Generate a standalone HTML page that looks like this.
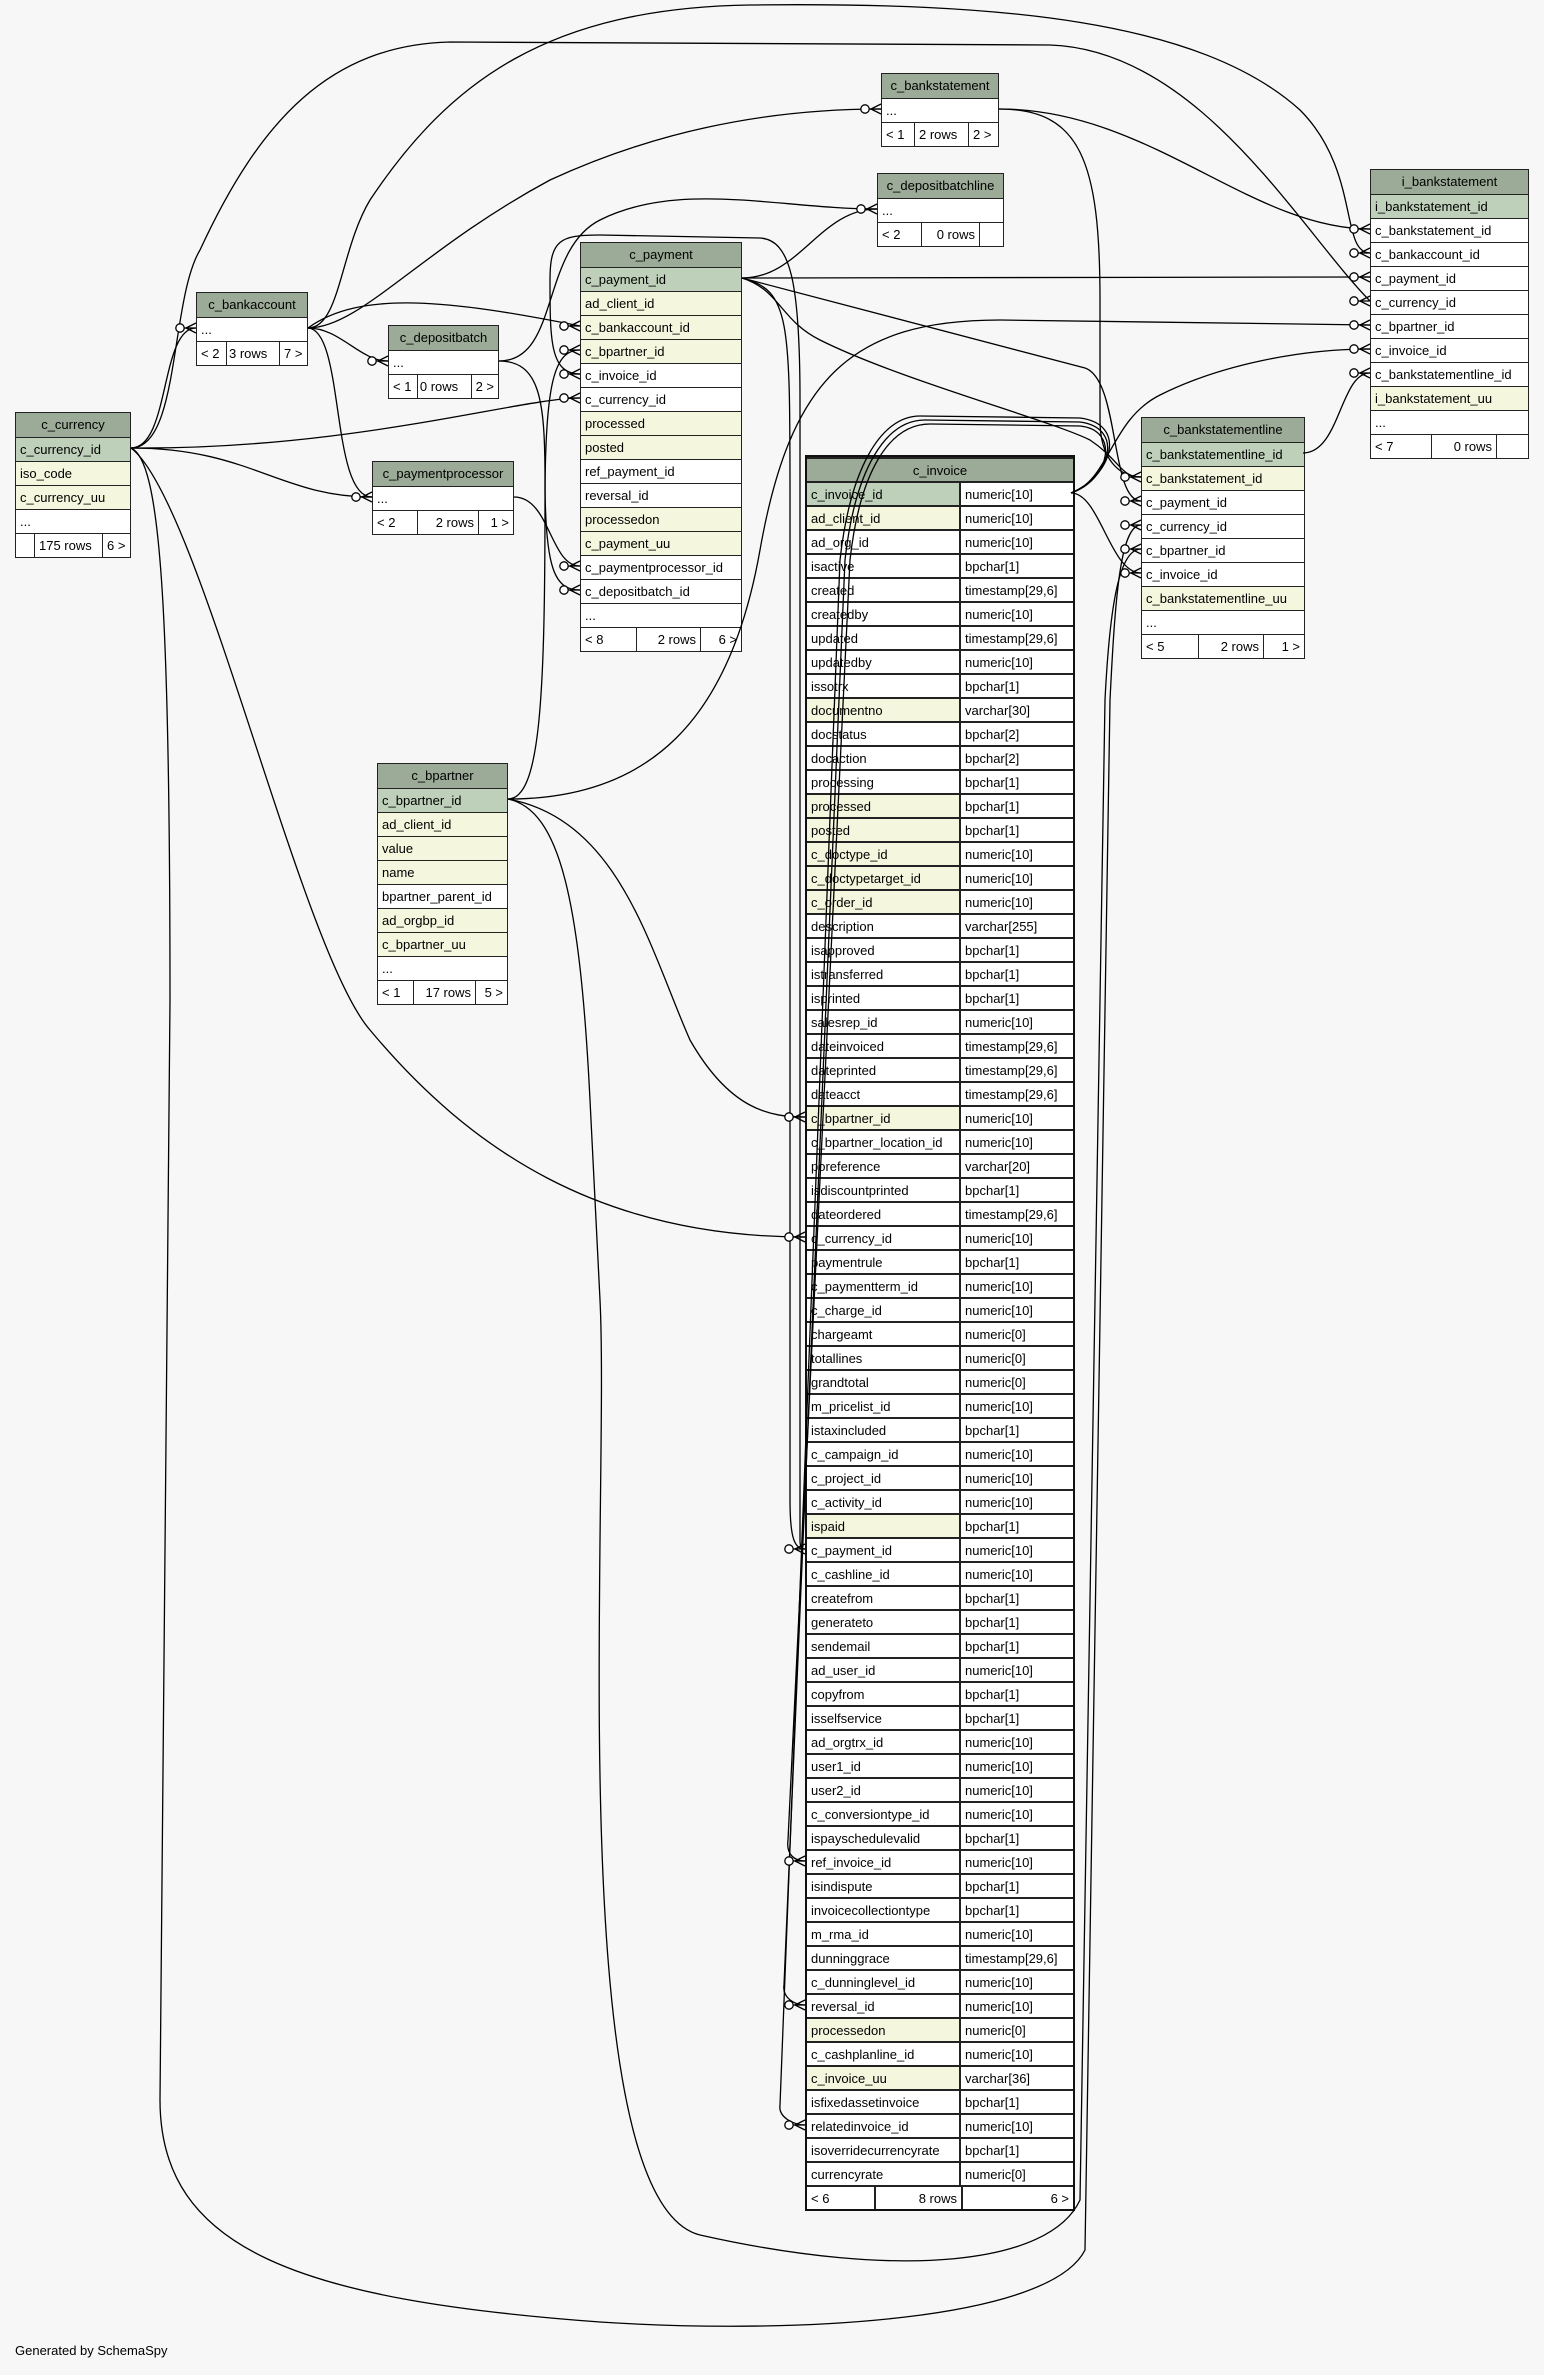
<!DOCTYPE html>
<html><head><meta charset="utf-8"><style>
body{margin:0;background:#f7f7f7;}
#w{position:relative;width:1544px;height:2375px;background:#f7f7f7;overflow:hidden;font-family:"Liberation Sans",Arial,sans-serif;}
.t{position:absolute;border:1px solid #222;background:#fff;font-size:13px;color:#000;}
.t>div{height:24px;line-height:23px;border-top:1px solid #222;box-sizing:border-box;padding-left:4px;white-space:nowrap;overflow:hidden;}
.t>div.h{border-top:none;background:#9cab97;text-align:center;padding:0;}
.t>div.g{background:#bed0ba}.t>div.y{background:#f4f7dd}
.t>div.f{display:flex;padding:0;}
.f span{display:block;box-sizing:border-box;padding:0 4px;border-left:1px solid #222;height:23px;}
.f span:first-child{border-left:none}
.f span.r{text-align:right}
.iv{border:2px solid #111}
.iv>div{display:flex;padding:0!important;border-top:2px solid #222!important}
.iv>div.h{display:block}
.iv>div span{display:block;box-sizing:border-box;padding:0 4px;height:22px}
.iv>div span.a{width:154px;border-right:2px solid #222}
.iv>div span.b{flex:1;background:#fff}
.iv>div.f span{border-left:2px solid #222}
.iv>div.f span:first-child{border-left:none}
svg{position:absolute;left:0;top:0}
#gen{position:absolute;left:15px;top:2343px;font-size:13px;}
</style></head><body><div id="w">

<div class="t" style="left:15px;top:412px;width:114px">
<div class="h">c_currency</div><div class="g">c_currency_id</div><div class="y">iso_code</div><div class="y">c_currency_uu</div><div>...</div>
<div class="f"><span style="width:18px"></span><span style="width:68px">175 rows</span><span style="flex:1">6 &gt;</span></div></div>

<div class="t" style="left:196px;top:292px;width:110px">
<div class="h">c_bankaccount</div><div>...</div>
<div class="f"><span style="width:29px">&lt; 2</span><span style="width:53px;padding:0 2px">3 rows</span><span style="flex:1">7 &gt;</span></div></div>

<div class="t" style="left:388px;top:325px;width:109px">
<div class="h">c_depositbatch</div><div>...</div>
<div class="f"><span style="width:28px">&lt; 1</span><span style="width:54px;padding:0 2px">0 rows</span><span style="flex:1">2 &gt;</span></div></div>

<div class="t" style="left:372px;top:461px;width:140px">
<div class="h">c_paymentprocessor</div><div>...</div>
<div class="f"><span style="width:44px">&lt; 2</span><span class="r" style="width:61px">2 rows</span><span class="r" style="flex:1">1 &gt;</span></div></div>

<div class="t" style="left:881px;top:73px;width:116px">
<div class="h">c_bankstatement</div><div>...</div>
<div class="f"><span style="width:32px">&lt; 1</span><span style="width:54px">2 rows</span><span style="flex:1">2 &gt;</span></div></div>

<div class="t" style="left:877px;top:173px;width:125px">
<div class="h">c_depositbatchline</div><div>...</div>
<div class="f"><span style="width:43px">&lt; 2</span><span class="r" style="width:58px">0 rows</span><span style="flex:1"></span></div></div>

<div class="t" style="left:580px;top:242px;width:160px">
<div class="h">c_payment</div><div class="g">c_payment_id</div><div class="y">ad_client_id</div><div class="y">c_bankaccount_id</div><div class="y">c_bpartner_id</div><div>c_invoice_id</div><div>c_currency_id</div><div class="y">processed</div><div class="y">posted</div><div>ref_payment_id</div><div>reversal_id</div><div class="y">processedon</div><div class="y">c_payment_uu</div><div>c_paymentprocessor_id</div><div>c_depositbatch_id</div><div>...</div>
<div class="f"><span style="width:55px">&lt; 8</span><span class="r" style="width:64px">2 rows</span><span class="r" style="flex:1">6 &gt;</span></div></div>

<div class="t" style="left:377px;top:763px;width:129px">
<div class="h">c_bpartner</div><div class="g">c_bpartner_id</div><div class="y">ad_client_id</div><div class="y">value</div><div class="y">name</div><div>bpartner_parent_id</div><div class="y">ad_orgbp_id</div><div class="y">c_bpartner_uu</div><div>...</div>
<div class="f"><span style="width:35px">&lt; 1</span><span class="r" style="width:62px">17 rows</span><span class="r" style="flex:1">5 &gt;</span></div></div>

<div class="t" style="left:1141px;top:417px;width:162px">
<div class="h">c_bankstatementline</div><div class="g">c_bankstatementline_id</div><div class="y">c_bankstatement_id</div><div>c_payment_id</div><div>c_currency_id</div><div>c_bpartner_id</div><div>c_invoice_id</div><div class="y">c_bankstatementline_uu</div><div>...</div>
<div class="f"><span style="width:56px">&lt; 5</span><span class="r" style="width:65px">2 rows</span><span class="r" style="flex:1">1 &gt;</span></div></div>

<div class="t" style="left:1370px;top:169px;width:157px">
<div class="h">i_bankstatement</div><div class="g">i_bankstatement_id</div><div>c_bankstatement_id</div><div>c_bankaccount_id</div><div>c_payment_id</div><div>c_currency_id</div><div>c_bpartner_id</div><div>c_invoice_id</div><div>c_bankstatementline_id</div><div class="y">i_bankstatement_uu</div><div>...</div>
<div class="f"><span style="width:60px">&lt; 7</span><span class="r" style="width:65px">0 rows</span><span style="flex:1"></span></div></div>

<div class="t iv" style="left:805px;top:455px;width:266px">
<div class="h">c_invoice</div>
<div><span class="a" style="background:#bed0ba">c_invoice_id</span><span class="b">numeric[10]</span></div>
<div><span class="a" style="background:#f4f7dd">ad_client_id</span><span class="b">numeric[10]</span></div>
<div><span class="a">ad_org_id</span><span class="b">numeric[10]</span></div>
<div><span class="a">isactive</span><span class="b">bpchar[1]</span></div>
<div><span class="a">created</span><span class="b">timestamp[29,6]</span></div>
<div><span class="a">createdby</span><span class="b">numeric[10]</span></div>
<div><span class="a">updated</span><span class="b">timestamp[29,6]</span></div>
<div><span class="a">updatedby</span><span class="b">numeric[10]</span></div>
<div><span class="a">issotrx</span><span class="b">bpchar[1]</span></div>
<div><span class="a" style="background:#f4f7dd">documentno</span><span class="b">varchar[30]</span></div>
<div><span class="a">docstatus</span><span class="b">bpchar[2]</span></div>
<div><span class="a">docaction</span><span class="b">bpchar[2]</span></div>
<div><span class="a">processing</span><span class="b">bpchar[1]</span></div>
<div><span class="a" style="background:#f4f7dd">processed</span><span class="b">bpchar[1]</span></div>
<div><span class="a" style="background:#f4f7dd">posted</span><span class="b">bpchar[1]</span></div>
<div><span class="a" style="background:#f4f7dd">c_doctype_id</span><span class="b">numeric[10]</span></div>
<div><span class="a" style="background:#f4f7dd">c_doctypetarget_id</span><span class="b">numeric[10]</span></div>
<div><span class="a" style="background:#f4f7dd">c_order_id</span><span class="b">numeric[10]</span></div>
<div><span class="a">description</span><span class="b">varchar[255]</span></div>
<div><span class="a">isapproved</span><span class="b">bpchar[1]</span></div>
<div><span class="a">istransferred</span><span class="b">bpchar[1]</span></div>
<div><span class="a">isprinted</span><span class="b">bpchar[1]</span></div>
<div><span class="a">salesrep_id</span><span class="b">numeric[10]</span></div>
<div><span class="a">dateinvoiced</span><span class="b">timestamp[29,6]</span></div>
<div><span class="a">dateprinted</span><span class="b">timestamp[29,6]</span></div>
<div><span class="a">dateacct</span><span class="b">timestamp[29,6]</span></div>
<div><span class="a" style="background:#f4f7dd">c_bpartner_id</span><span class="b">numeric[10]</span></div>
<div><span class="a">c_bpartner_location_id</span><span class="b">numeric[10]</span></div>
<div><span class="a">poreference</span><span class="b">varchar[20]</span></div>
<div><span class="a">isdiscountprinted</span><span class="b">bpchar[1]</span></div>
<div><span class="a">dateordered</span><span class="b">timestamp[29,6]</span></div>
<div><span class="a">c_currency_id</span><span class="b">numeric[10]</span></div>
<div><span class="a">paymentrule</span><span class="b">bpchar[1]</span></div>
<div><span class="a">c_paymentterm_id</span><span class="b">numeric[10]</span></div>
<div><span class="a">c_charge_id</span><span class="b">numeric[10]</span></div>
<div><span class="a">chargeamt</span><span class="b">numeric[0]</span></div>
<div><span class="a">totallines</span><span class="b">numeric[0]</span></div>
<div><span class="a">grandtotal</span><span class="b">numeric[0]</span></div>
<div><span class="a">m_pricelist_id</span><span class="b">numeric[10]</span></div>
<div><span class="a">istaxincluded</span><span class="b">bpchar[1]</span></div>
<div><span class="a">c_campaign_id</span><span class="b">numeric[10]</span></div>
<div><span class="a">c_project_id</span><span class="b">numeric[10]</span></div>
<div><span class="a">c_activity_id</span><span class="b">numeric[10]</span></div>
<div><span class="a" style="background:#f4f7dd">ispaid</span><span class="b">bpchar[1]</span></div>
<div><span class="a">c_payment_id</span><span class="b">numeric[10]</span></div>
<div><span class="a">c_cashline_id</span><span class="b">numeric[10]</span></div>
<div><span class="a">createfrom</span><span class="b">bpchar[1]</span></div>
<div><span class="a">generateto</span><span class="b">bpchar[1]</span></div>
<div><span class="a">sendemail</span><span class="b">bpchar[1]</span></div>
<div><span class="a">ad_user_id</span><span class="b">numeric[10]</span></div>
<div><span class="a">copyfrom</span><span class="b">bpchar[1]</span></div>
<div><span class="a">isselfservice</span><span class="b">bpchar[1]</span></div>
<div><span class="a">ad_orgtrx_id</span><span class="b">numeric[10]</span></div>
<div><span class="a">user1_id</span><span class="b">numeric[10]</span></div>
<div><span class="a">user2_id</span><span class="b">numeric[10]</span></div>
<div><span class="a">c_conversiontype_id</span><span class="b">numeric[10]</span></div>
<div><span class="a">ispayschedulevalid</span><span class="b">bpchar[1]</span></div>
<div><span class="a">ref_invoice_id</span><span class="b">numeric[10]</span></div>
<div><span class="a">isindispute</span><span class="b">bpchar[1]</span></div>
<div><span class="a">invoicecollectiontype</span><span class="b">bpchar[1]</span></div>
<div><span class="a">m_rma_id</span><span class="b">numeric[10]</span></div>
<div><span class="a">dunninggrace</span><span class="b">timestamp[29,6]</span></div>
<div><span class="a">c_dunninglevel_id</span><span class="b">numeric[10]</span></div>
<div><span class="a">reversal_id</span><span class="b">numeric[10]</span></div>
<div><span class="a" style="background:#f4f7dd">processedon</span><span class="b">numeric[0]</span></div>
<div><span class="a">c_cashplanline_id</span><span class="b">numeric[10]</span></div>
<div><span class="a" style="background:#f4f7dd">c_invoice_uu</span><span class="b">varchar[36]</span></div>
<div><span class="a">isfixedassetinvoice</span><span class="b">bpchar[1]</span></div>
<div><span class="a">relatedinvoice_id</span><span class="b">numeric[10]</span></div>
<div><span class="a">isoverridecurrencyrate</span><span class="b">bpchar[1]</span></div>
<div><span class="a">currencyrate</span><span class="b">numeric[0]</span></div>
<div class="f"><span style="width:67px">&lt; 6</span><span class="r" style="width:87px">8 rows</span><span class="r" style="flex:1">6 &gt;</span></div>
</div>

<svg width="1544" height="2375" viewBox="0 0 1544 2375">
<defs><g id="cf" fill="none" stroke="#000" stroke-width="1.3"><line x1="-10" y1="0" x2="0" y2="-5"/><line x1="-10" y1="0" x2="0" y2="5"/><line x1="-12" y1="0" x2="0" y2="0"/><circle cx="-16" cy="0" r="4.2" fill="#fff"/></g></defs>
<g fill="none" stroke="#000" stroke-width="1.3">
<path d="M131,448 C170,448 160,328 196,328"/>
<path d="M131,448 C250,448 280,497 372,497"/>
<path d="M131,448 C350,450 520,398 580,398"/>
<path d="M131,448 C200,500 300,950 370,1030 C470,1150 600,1237 805,1237"/>
<path d="M131,448 C180,448 170,300 200,250 C260,120 330,45 450,42 L1050,45 C1200,50 1300,230 1370,301"/>
<path d="M131,448 C160,460 170,600 170,1000 L160,2100 C160,2250 300,2300 600,2322 C800,2335 1050,2320 1085,2250 L1110,700 C1115,600 1120,525 1141,525"/>
<path d="M308,328 C340,328 340,250 370,200 C450,80 550,8 750,5 C1000,2 1200,20 1300,110 C1360,170 1340,253 1370,253"/>
<path d="M308,328 C360,328 420,250 550,180 C680,120 800,109 881,109"/>
<path d="M308,328 C360,290 450,300 580,326"/>
<path d="M308,328 C340,328 360,361 388,361"/>
<path d="M308,328 C345,330 330,497 372,497"/>
<path d="M499,361 C560,361 540,250 600,220 C680,180 780,209 877,209"/>
<path d="M499,361 C540,361 545,400 545,480 C545,570 555,590 580,590"/>
<path d="M514,497 C550,497 550,566 580,566"/>
<path d="M999,109 C1150,109 1250,229 1370,229"/>
<path d="M999,109 C1080,109 1100,160 1100,300 L1100,420 C1100,460 1120,477 1141,477"/>
<path d="M742,278 C800,278 820,209 877,209"/>
<path d="M742,278 L1370,277"/>
<path d="M742,278 L1085,368 C1120,380 1110,501 1141,501"/>
<path d="M742,278 C780,290 780,320 820,340 C900,380 1050,420 1090,440 C1120,460 1120,477 1141,477"/>
<path d="M742,278 C790,290 790,320 790,500 L790,1500 C790,1540 795,1549 805,1549"/>
<path d="M580,374 C550,374 550,340 550,280 C550,240 560,235 600,235 L760,238 C790,240 800,280 800,400 L800,1540 C800,1548 802,1549 805,1549"/>
<path d="M1071,493 C1110,480 1120,430 1080,426 L930,424 C890,424 860,470 850,560 L788,1840 C786,1855 795,1861 805,1861"/>
<path d="M1071,493 C1110,478 1125,428 1080,422 L925,420 C885,420 855,470 845,560 L784,1985 C782,1998 795,2005 805,2005"/>
<path d="M1071,493 C1112,476 1128,424 1080,418 L920,416 C880,416 850,470 840,560 L780,2105 C778,2118 795,2125 805,2125"/>
<path d="M1071,493 C1110,480 1110,420 1160,395 C1220,365 1300,349 1370,349"/>
<path d="M1071,493 C1100,493 1110,573 1141,573"/>
<path d="M508,799 C540,799 545,700 545,500 C545,380 555,350 580,350"/>
<path d="M508,799 C650,799 730,720 760,550 C790,380 850,320 1000,320 L1370,325"/>
<path d="M508,799 C620,820 650,950 690,1040 C730,1110 770,1117 805,1117"/>
<path d="M508,799 C560,810 580,900 590,1100 L600,1300 C610,1500 560,2200 700,2235 C900,2280 1050,2265 1080,2200 L1105,700 C1110,600 1120,549 1141,549"/>
<path d="M1303,453 C1340,453 1340,373 1370,373"/>
</g>
<use href="#cf" transform="translate(196,328)"/>
<use href="#cf" transform="translate(372,497)"/>
<use href="#cf" transform="translate(580,398)"/>
<use href="#cf" transform="translate(805,1237)"/>
<use href="#cf" transform="translate(1370,301)"/>
<use href="#cf" transform="translate(1141,525)"/>
<use href="#cf" transform="translate(1370,253)"/>
<use href="#cf" transform="translate(881,109)"/>
<use href="#cf" transform="translate(580,326)"/>
<use href="#cf" transform="translate(388,361)"/>
<use href="#cf" transform="translate(877,209)"/>
<use href="#cf" transform="translate(580,590)"/>
<use href="#cf" transform="translate(580,566)"/>
<use href="#cf" transform="translate(1370,229)"/>
<use href="#cf" transform="translate(1141,477)"/>
<use href="#cf" transform="translate(1370,277)"/>
<use href="#cf" transform="translate(1141,501)"/>
<use href="#cf" transform="translate(805,1549)"/>
<use href="#cf" transform="translate(580,374)"/>
<use href="#cf" transform="translate(805,1861)"/>
<use href="#cf" transform="translate(805,2005)"/>
<use href="#cf" transform="translate(805,2125)"/>
<use href="#cf" transform="translate(1370,349)"/>
<use href="#cf" transform="translate(1141,573)"/>
<use href="#cf" transform="translate(580,350)"/>
<use href="#cf" transform="translate(1370,325)"/>
<use href="#cf" transform="translate(805,1117)"/>
<use href="#cf" transform="translate(1141,549)"/>
<use href="#cf" transform="translate(1370,373)"/>
</svg>
<div id="gen">Generated by SchemaSpy</div>
</div></body></html>
